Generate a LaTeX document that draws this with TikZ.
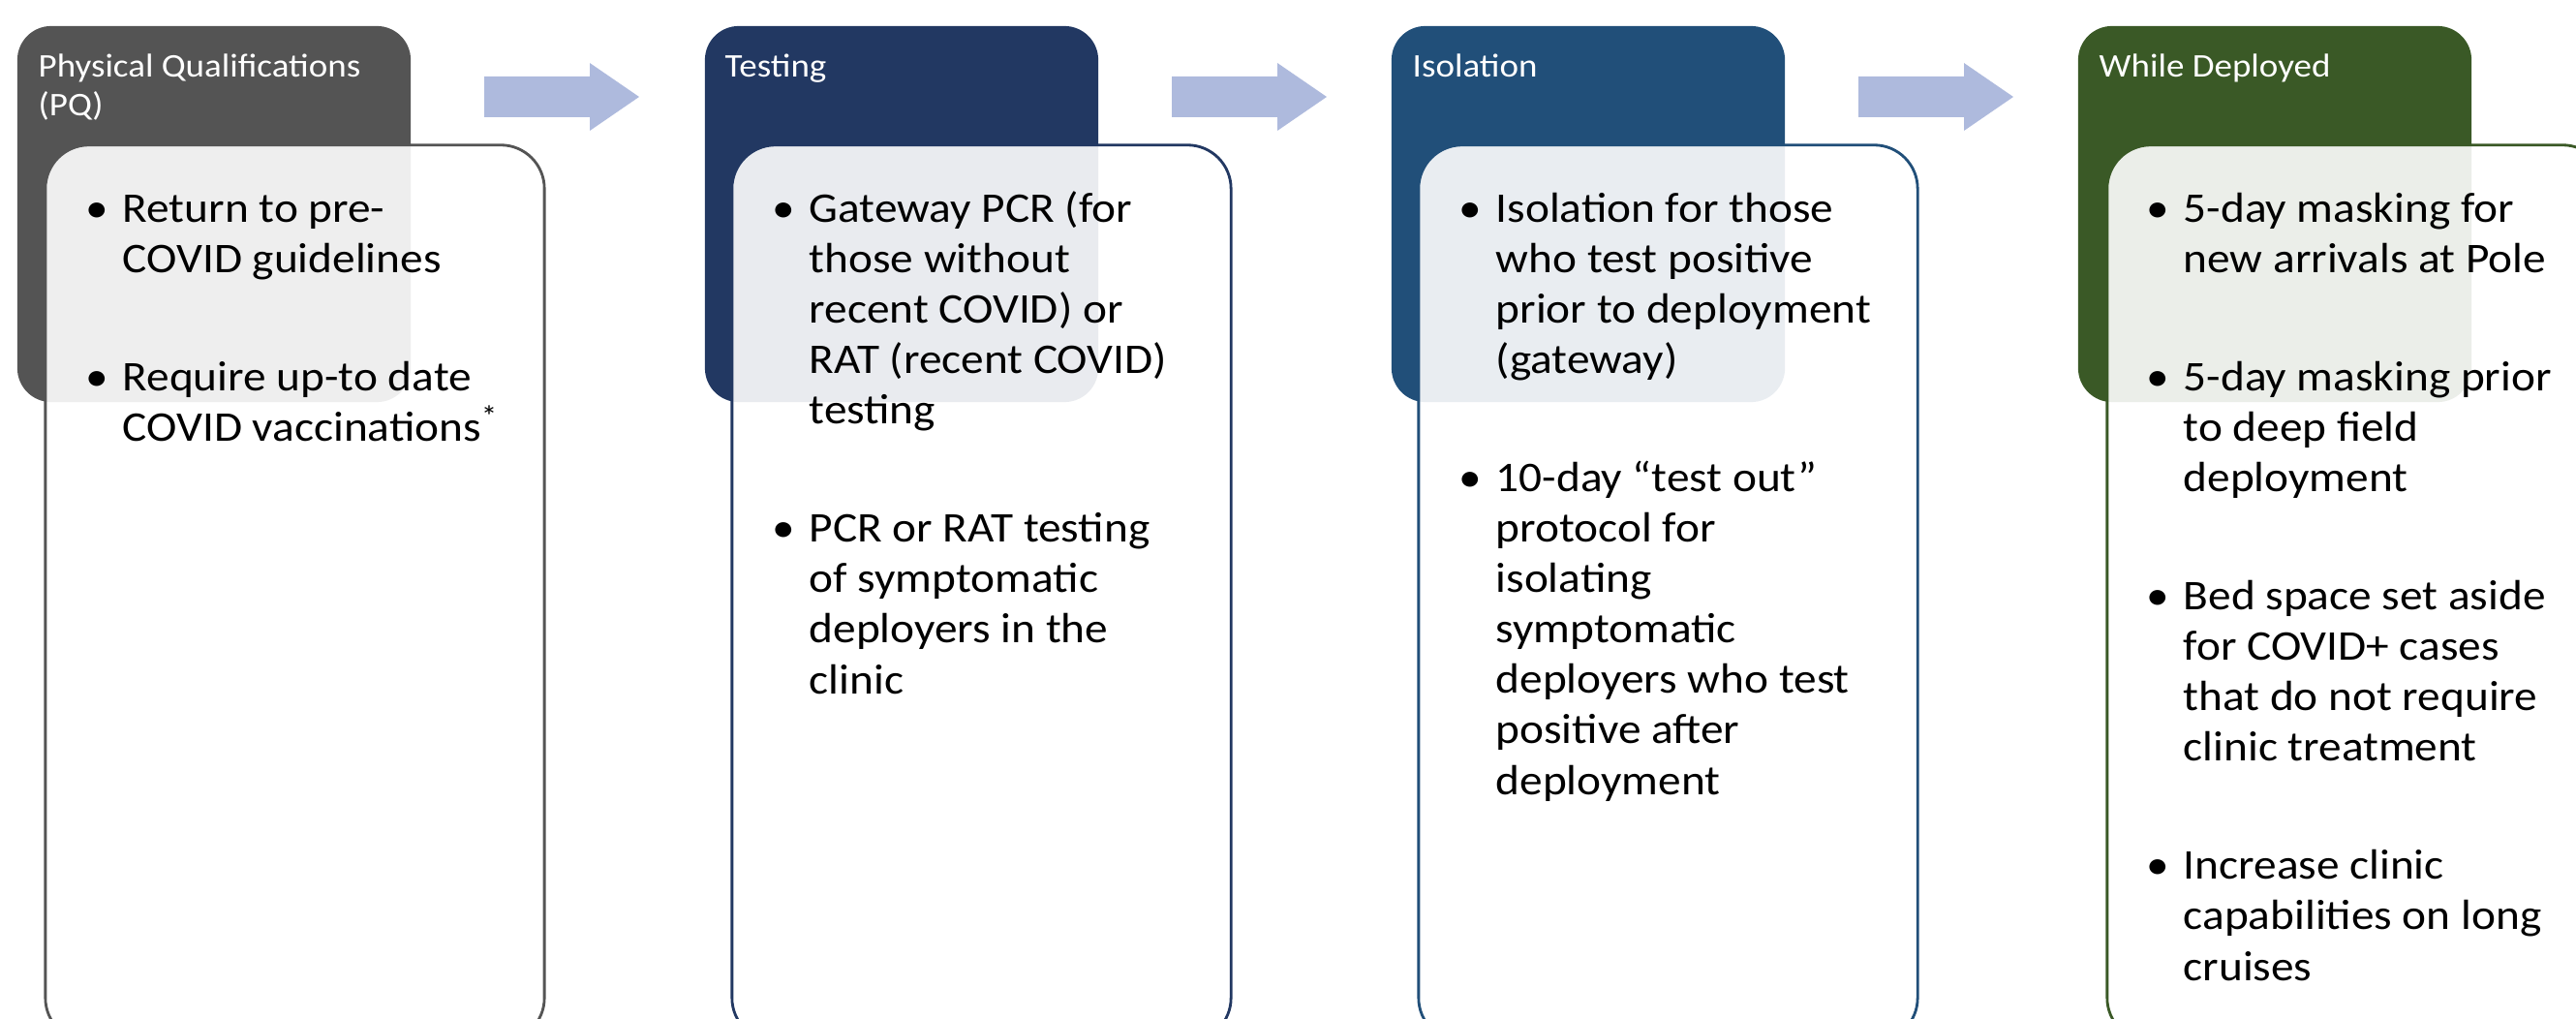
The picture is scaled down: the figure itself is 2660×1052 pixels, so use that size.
\documentclass[tikz,border=0pt]{standalone}
\usepackage{fontspec}
\setmainfont{Carlito}[FakeStretch=1.085]
\usetikzlibrary{positioning,calc}
\definecolor{pqgray}{HTML}{545454}
\definecolor{testnavy}{HTML}{223862}
\definecolor{isoblue}{HTML}{214F79}
\definecolor{depgreen}{HTML}{3A5926}
\definecolor{arrowblue}{HTML}{AEBADD}
\newcommand{\bul}{\llap{\textbullet\hspace{0.15cm}}}

\begin{document}
\begin{tikzpicture}[x=0.01cm, y=-0.01cm,
  headbox/.style={rounded corners=0.35cm, minimum width=4.06cm, minimum height=3.88cm, inner sep=0pt},
  listbox/.style={rounded corners=0.45cm, fill=white, fill opacity=0.9, line width=0.8pt, minimum width=5.15cm, minimum height=9.25cm, inner sep=0pt},
  headtext/.style={text=white, align=left, inner sep=0pt, font=\fontsize{9.7}{11.4}\selectfont},
  itemtext/.style={align=left, inner sep=0pt, font=\fontsize{12.4}{14.8}\selectfont},
  flow/.style={fill=arrowblue}]
\useasboundingbox (0,0) rectangle (2660,1052);
\clip (0,0) rectangle (2660,1052);

% coloured title blocks
\node[headbox, fill=pqgray] (pq) at (221,221) {};
\node[headbox, fill=testnavy] (test) at (931,221) {};
\node[headbox, fill=isoblue] (iso) at (1640,221) {};
\node[headbox, fill=depgreen] (dep) at (2349,221) {};

% (base anchor = last line of the block)
\node[headtext, anchor=base west] (pqt) at (39,120) {Physical Qualifications\\(PQ)};
\node[headtext, anchor=base west] (testt) at (748,80) {Testing};
\node[headtext, anchor=base west] (isot) at (1458,80) {Isolation};
\node[headtext, anchor=base west] (dept) at (2167,80) {While Deployed};

% process arrows
\foreach \dx in {0,710,1419}
  \fill[flow, shift={(\dx,0)}] (500,79) -- (609,79) -- (609,65) -- (660,100) -- (609,135) -- (609,121) -- (500,121) -- cycle;

% list panels
\node[listbox, draw=pqgray] (pql) at (304.5,612.5) {};
\node[listbox, draw=testnavy] (testl) at (1013.5,612.5) {};
\node[listbox, draw=isoblue] (isol) at (1722.5,612.5) {};
\node[listbox, draw=depgreen] (depl) at (2433.5,612.5) {};

\node[itemtext, anchor=base west] (pqi) at (126,456) {\bul Return to pre-\\COVID guidelines\\[19.9pt]
  \bul Require up-to date\\COVID vaccinations\textsuperscript{*}};
\node[itemtext, anchor=base west] (testi) at (835,716) {\bul Gateway PCR (for\\those without\\recent COVID) or\\RAT (recent COVID)\\testing\\[19.9pt]
  \bul PCR or RAT testing\\of symptomatic\\deployers in the\\clinic};
\node[itemtext, anchor=base west] (isoi) at (1544,820) {\bul Isolation for those\\who test positive\\prior to deployment\\(gateway)\\[19.9pt]
  \bul 10-day “test out”\\protocol for\\isolating\\symptomatic\\deployers who test\\positive after\\deployment};
\node[itemtext, anchor=base west] (depi) at (2254,1012) {\bul 5-day masking for\\new arrivals at Pole\\[19.9pt]
  \bul 5-day masking prior\\to deep field\\deployment\\[19.9pt]
  \bul Bed space set aside\\for COVID+ cases\\that do not require\\clinic treatment\\[19.9pt]
  \bul Increase clinic\\capabilities on long\\cruises};
\end{tikzpicture}
\end{document}
